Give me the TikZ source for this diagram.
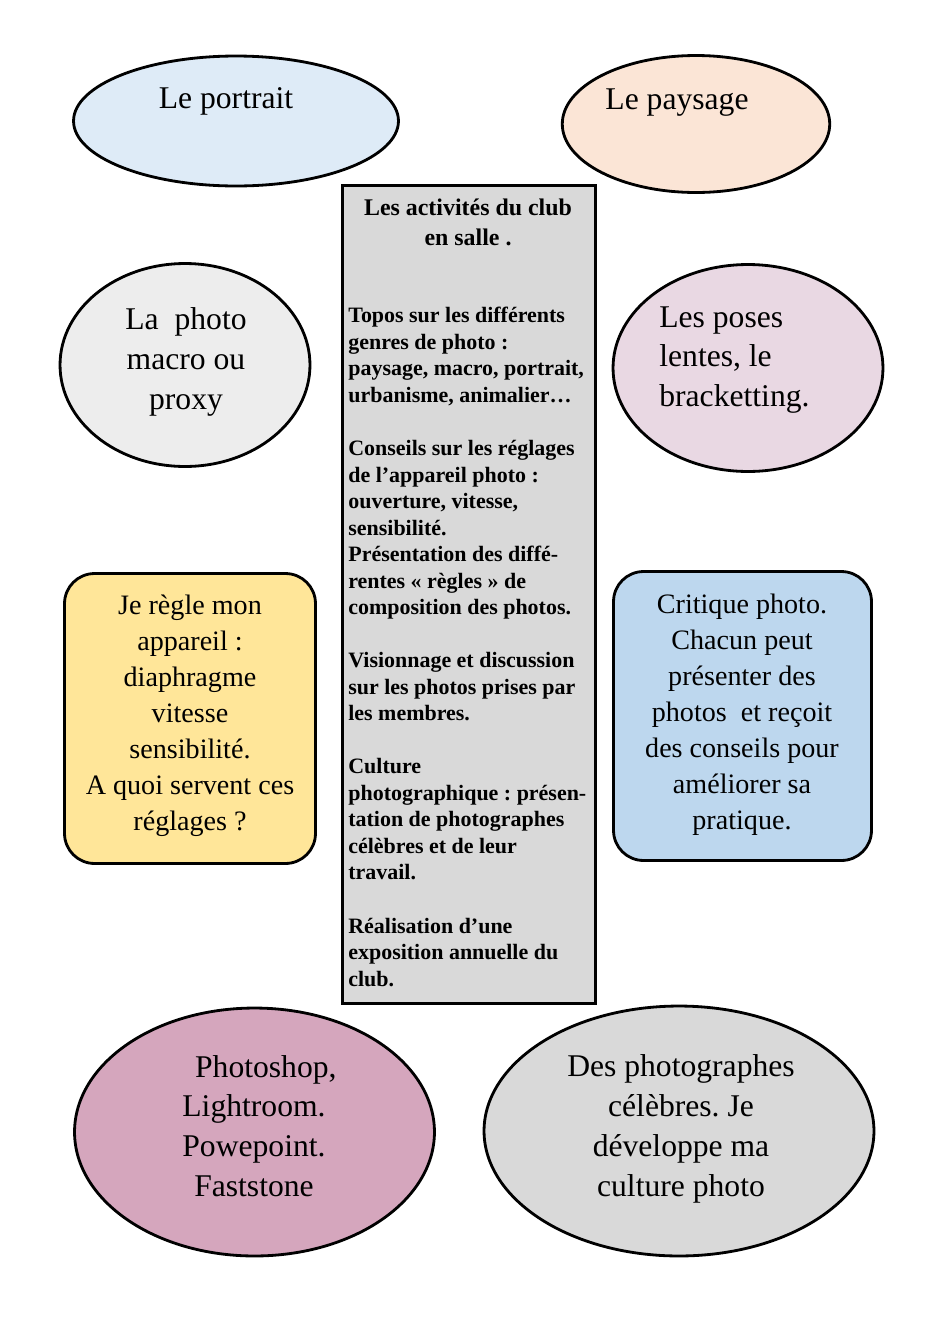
\documentclass[tikz,border=0pt]{standalone}
\usepackage{fontspec}
\setmainfont{Liberation Serif}
\usetikzlibrary{shapes.geometric}
\frenchspacing

\newcommand{\bubblesize}{\fontsize{18pt}{22.7pt}\selectfont}
\newcommand{\boxsize}{\fontsize{16pt}{20.5pt}\selectfont}
\newcommand{\listsize}{\fontsize{12.5pt}{15.1pt}\selectfont\bfseries}
\newcommand{\headsize}{\fontsize{13.6pt}{17.1pt}\selectfont\bfseries}

\begin{document}
\begin{tikzpicture}[x=0.02cm, y=-0.02cm,
  bubble/.style={ellipse, draw=black, line width=1.6pt, inner sep=0pt},
  roundbox/.style={rectangle, rounded corners=0.6cm, draw=black, line width=1.6pt, inner sep=0pt},
  bubbletext/.style={font=\bubblesize, align=center, inner sep=0pt},
  boxtext/.style={font=\boxsize, align=center, inner sep=0pt}]

% ── Helpers ──
\definecolor{portraitblue}{RGB}{222,235,247}
\definecolor{paysagepeach}{RGB}{251,229,214}
\definecolor{macrogray}{RGB}{237,237,237}
\definecolor{poseslilac}{RGB}{233,216,227}
\definecolor{reglageyellow}{RGB}{255,230,153}
\definecolor{critiqueblue}{RGB}{189,215,238}
\definecolor{logicielmauve}{RGB}{213,166,189}
\definecolor{culturegray}{RGB}{217,217,217}

% ── Page ──
\fill[white] (0,0) rectangle (940,1329);
\useasboundingbox (0,0) rectangle (940,1329);

% ── Top row ──
\node[bubble, fill=portraitblue, minimum width=6.5cm, minimum height=2.6cm] (portrait) at (236,121) {};
\node[bubbletext] (portraitText) at (226,101) {Le portrait};

\node[bubble, fill=paysagepeach, minimum width=5.35cm, minimum height=2.74cm] (paysage) at (696,124) {};
\node[bubbletext] (paysageText) at (677,103) {Le paysage};

% ── Central list ──
\node[rectangle, draw=black, line width=1.6pt, fill=culturegray, minimum width=5.06cm, minimum height=16.36cm, inner sep=0pt] (activites) at (469,594.5) {};
\node[font=\headsize, align=center, inner sep=0pt] (activitesTitle) at (468,222) {Les activités du club\\en salle .};
\node[font=\listsize, align=left, anchor=north west, inner sep=0pt] (activitesList) at (348,307) {%
Topos sur les différents\\
genres de photo :\\
paysage, macro, portrait,\\
urbanisme, animalier…\\[15.1pt]
Conseils sur les réglages\\
de l’appareil photo :\\
ouverture, vitesse,\\
sensibilité.\\
Présentation des diffé-\\
rentes « règles » de\\
composition des photos.\\[15.1pt]
Visionnage et discussion\\
sur les photos prises par\\
les membres.\\[15.1pt]
Culture\\
photographique : présen-\\
tation de photographes\\
célèbres et de leur\\
travail.\\[15.1pt]
Réalisation d’une\\
exposition annuelle du\\
club.};

% ── Second row ──
\node[bubble, fill=macrogray, minimum width=5.0cm, minimum height=4.06cm] (macro) at (185,365) {};
\node[bubbletext] (macroText) at (186,362) {La~~photo\\macro ou\\proxy};

\node[bubble, fill=poseslilac, minimum width=5.4cm, minimum height=4.14cm] (poses) at (748,368) {};
\node[bubbletext, align=left, anchor=west] (posesText) at (659,360) {Les poses\\lentes, le\\bracketting.};

% ── Rounded boxes ──
\node[roundbox, fill=reglageyellow, minimum width=5.02cm, minimum height=5.8cm] (reglage) at (190,718.5) {};
\node[boxtext] (reglageText) at (190,716) {Je règle mon\\appareil :\\diaphragme\\vitesse\\sensibilité.\\A quoi servent ces\\réglages ?};

\node[roundbox, fill=critiqueblue, minimum width=5.16cm, minimum height=5.78cm] (critique) at (742.5,716) {};
\node[boxtext] (critiqueText) at (742,715) {Critique photo.\\Chacun peut\\présenter des\\photos~~et reçoit\\des conseils pour\\améliorer sa\\pratique.};

% ── Bottom row ──
\node[bubble, fill=logicielmauve, minimum width=7.2cm, minimum height=4.96cm] (logiciels) at (254.5,1132) {};
\node[bubbletext] (logicielsText) at (254,1126) {\hspace*{0.75em}Photoshop,\\Lightroom.\\Powepoint.\\Faststone};

\node[bubble, fill=culturegray, minimum width=7.8cm, minimum height=5.0cm] (culture) at (679,1131) {};
\node[bubbletext] (cultureText) at (681,1129) {Des photographes\\célèbres. Je\\développe ma\\culture photo};

\end{tikzpicture}
\end{document}
